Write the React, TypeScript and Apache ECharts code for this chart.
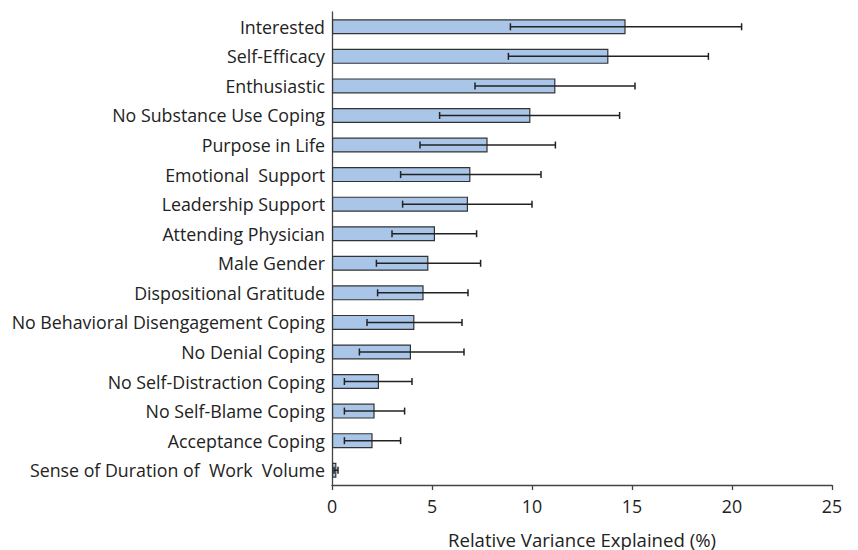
import React, { useEffect, useRef } from "react";
import * as echarts from "echarts";

const categories = [
  "Interested",
  "Self-Efficacy",
  "Enthusiastic",
  "No Substance Use Coping",
  "Purpose in Life",
  "Emotional  Support",
  "Leadership Support",
  "Attending Physician",
  "Male Gender",
  "Dispositional Gratitude",
  "No Behavioral Disengagement Coping",
  "No Denial Coping",
  "No Self-Distraction Coping",
  "No Self-Blame Coping",
  "Acceptance Coping",
  "Sense of Duration of  Work  Volume",
];
const values = [14.68, 13.82, 11.17, 9.92, 7.78, 6.92, 6.8, 5.15, 4.82, 4.58, 4.12, 3.95, 2.35, 2.13, 2.03, 0.22];
const lower = [8.92, 8.82, 7.15, 5.38, 4.4, 3.43, 3.53, 3.0, 2.22, 2.28, 1.75, 1.37, 0.62, 0.62, 0.62, 0.1];
const upper = [20.48, 18.82, 15.15, 14.38, 11.17, 10.45, 10.0, 7.23, 7.43, 6.8, 6.5, 6.6, 4.0, 3.63, 3.43, 0.3];
const xTicks = { min: 0, max: 25, interval: 5 };
const axisTitle = "Relative Variance Explained (%)";

const FONT = "'Open Sans', sans-serif";

export default function App() {
  const ref = useRef<HTMLDivElement>(null);
  useEffect(() => {
    if (!ref.current) return;
    const chart = echarts.init(ref.current, null, { renderer: "svg" });
    const errData = categories.map((c, i) => [i, lower[i], upper[i]]);
    chart.setOption({
      animation: false,
      grid: { left: 332, right: 26, top: 12, bottom: 65, containLabel: false, outerBoundsMode: "none" },
      xAxis: {
        type: "value",
        min: xTicks.min,
        max: xTicks.max,
        interval: xTicks.interval,
        name: axisTitle,
        nameLocation: "middle",
        nameGap: 44,
        nameTextStyle: { fontFamily: FONT, fontSize: 18.6, lineHeight: 20, color: "#222" },
        axisLine: { show: true, lineStyle: { color: "#444", width: 1.3 } },
        axisTick: { show: true, length: 5, lineStyle: { color: "#444", width: 1.3 } },
        axisLabel: { fontFamily: FONT, fontSize: 17.8, color: "#222", margin: 12 },
        splitLine: { show: false },
      },
      yAxis: {
        type: "category",
        data: categories,
        inverse: true,
        axisLine: { show: true, lineStyle: { color: "#444", width: 1.3 } },
        axisTick: { show: false },
        axisLabel: { fontFamily: FONT, fontSize: 17.8, color: "#222", margin: 7 },
      },
      series: [
        {
          type: "bar",
          data: values,
          barWidth: 15,
          itemStyle: { color: "#A9C6E8", borderColor: "#333", borderWidth: 1.2 },
        },
        {
          type: "custom",
          data: errData,
          z: 10,
          renderItem: (params: any, api: any) => {
            const idx = api.value(0);
            const lo = api.coord([api.value(1), idx]);
            const hi = api.coord([api.value(2), idx]);
            const h = 3.5;
            const style = { stroke: "#222", lineWidth: 1.5 };
            return {
              type: "group",
              children: [
                { type: "line", shape: { x1: lo[0], y1: lo[1], x2: hi[0], y2: hi[1] }, style },
                { type: "line", shape: { x1: lo[0], y1: lo[1] - h, x2: lo[0], y2: lo[1] + h }, style },
                { type: "line", shape: { x1: hi[0], y1: hi[1] - h, x2: hi[0], y2: hi[1] + h }, style },
              ],
            };
          },
          encode: { x: [1, 2], y: 0 },
        },
      ],
    });
    return () => chart.dispose();
  }, []);
  return (
    <div
      ref={ref}
      style={{ position: "absolute", left: 0, top: 0, width: 858, height: 550 }}
    />
  );
}
